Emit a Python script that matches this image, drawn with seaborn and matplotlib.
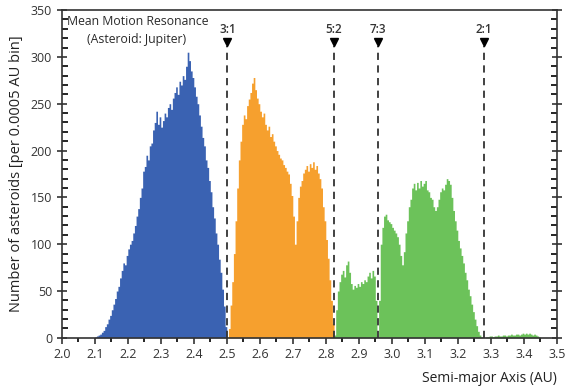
import numpy as np
import pandas as pd
import seaborn as sns
import matplotlib.pyplot as plt
from matplotlib.ticker import MultipleLocator

# bin width 0.005 AU, counts (left edge of each bin)
inner_start = 2.100
inner_counts = [1, 2, 3, 4, 6, 8, 12, 15, 20, 24,
                30, 36, 42, 50, 55, 64, 72, 80, 78, 88,
                95, 100, 104, 112, 120, 130, 138, 150, 160, 178,
                183, 195, 190, 205, 208, 222, 230, 242, 228, 236,
                225, 232, 240, 236, 246, 250, 244, 256, 262, 268,
                260, 274, 270, 280, 276, 290, 305, 296, 285, 278,
                268, 258, 250, 238, 226, 214, 205, 190, 182, 168,
                156, 140, 128, 112, 100, 84, 70, 52, 34, 12]

middle_start = 2.500
middle_counts = [0, 10, 35, 60, 90, 125, 160, 190, 210, 228,
                 238, 234, 248, 255, 262, 272, 278, 265, 256, 250,
                 242, 236, 240, 228, 222, 226, 215, 218, 210, 205,
                 200, 196, 192, 190, 185, 182, 178, 175, 165, 152,
                 130, 100, 125, 150, 162, 168, 176, 180, 184, 178,
                 186, 182, 188, 180, 184, 176, 170, 160, 140, 125,
                 105, 85, 62, 40, 15]

outer_start = 2.825
outer_counts = [3, 30, 50, 60, 68, 72, 65, 78, 82, 70,
                58, 52, 56, 54, 58, 55, 60, 58, 62, 60,
                66, 70, 64, 72, 66, 40,
                0, 40, 100, 118, 130, 132, 126, 124, 122, 118,
                115, 112, 108, 100, 88, 78, 92, 112, 125, 140,
                148, 160, 165, 158, 166, 160, 168, 162, 165, 168,
                158, 156, 150, 148, 140, 136, 140, 148, 156, 160,
                158, 164, 170, 168, 164, 150, 136, 125, 115, 104,
                96, 88, 80, 70, 62, 52, 45, 36, 28, 20,
                13, 7, 3, 1, 0,
                0, 1, 1, 2, 2, 1, 2, 2, 3, 2,
                2, 3, 3, 2, 3, 3, 4, 3, 3, 4,
                4, 3, 4, 5, 4, 5, 4, 5, 4, 3,
                4, 3, 2, 1]

resonances = ["3:1", "5:2", "7:3", "2:1"]
resonance_au = [2.502, 2.824, 2.958, 3.279]

zone_colors = {"inner": "#3a62b2", "middle": "#f6a02e", "outer": "#6cc25a"}

binw = 0.005
frames = []
for name, start, counts in [("inner", inner_start, inner_counts),
                            ("middle", middle_start, middle_counts),
                            ("outer", outer_start, outer_counts)]:
    centers = start + binw * (np.arange(len(counts)) + 0.5)
    frames.append(pd.DataFrame({"a": centers, "n": counts, "zone": name}))
df = pd.concat(frames, ignore_index=True)

plt.rcParams['font.family'] = ['Open Sans', 'DejaVu Sans']
fig = plt.figure(figsize=(5.67, 3.87), dpi=100)
ax = fig.add_axes([0.109, 0.127, 0.873, 0.847])

sns.histplot(data=df, x="a", weights="n", hue="zone",
             binwidth=binw, binrange=(2.0, 3.5),
             palette=zone_colors, multiple="layer", element="step",
             fill=True, alpha=1, linewidth=0, legend=False, ax=ax)

ax.set_xlim(2.0, 3.5)
ax.set_ylim(0, 350)

for lab, xv in zip(resonances, resonance_au):
    ax.plot([xv, xv], [0, 312], ls=(0, (4, 3)), color="#333333", lw=1.3)
    ax.plot(xv, 316, marker="v", color="black", markersize=6)
    ax.text(xv, 322, lab, ha="center", va="bottom", fontsize=8.5,
            color="#333333", fontweight="semibold")

ax.text(0.011, 0.985, "Mean Motion Resonance", transform=ax.transAxes,
        ha="left", va="top", fontsize=8.8, color="#2a2a2a")
ax.text(0.152, 0.93, "(Asteroid: Jupiter)", transform=ax.transAxes,
        ha="center", va="top", fontsize=8.8, color="#2a2a2a")

ax.xaxis.set_major_locator(MultipleLocator(0.1))
ax.xaxis.set_minor_locator(MultipleLocator(0.05))
ax.yaxis.set_major_locator(MultipleLocator(50))
ax.yaxis.set_minor_locator(MultipleLocator(10))
ax.tick_params(axis="x", which="major", direction="out", length=4,
               width=1.2, labelsize=9, colors="#333333")
ax.tick_params(axis="x", which="minor", direction="out", length=3,
               width=1.2)
ax.tick_params(axis="y", which="major", direction="inout", length=7,
               width=1.2, labelsize=9, colors="#333333", right=True)
ax.tick_params(axis="y", which="minor", direction="in", length=4,
               width=1.2, right=True)
for s in ax.spines.values():
    s.set_color("#333333")
    s.set_linewidth(1.2)

ax.set_xlabel("Semi-major Axis (AU)", fontsize=10, loc="right",
              color="#222222", labelpad=7)
ax.set_ylabel("Number of asteroids [per 0.0005 AU bin]", fontsize=10.5,
              color="#222222", labelpad=5)

fig.savefig("out.png", dpi=100)
